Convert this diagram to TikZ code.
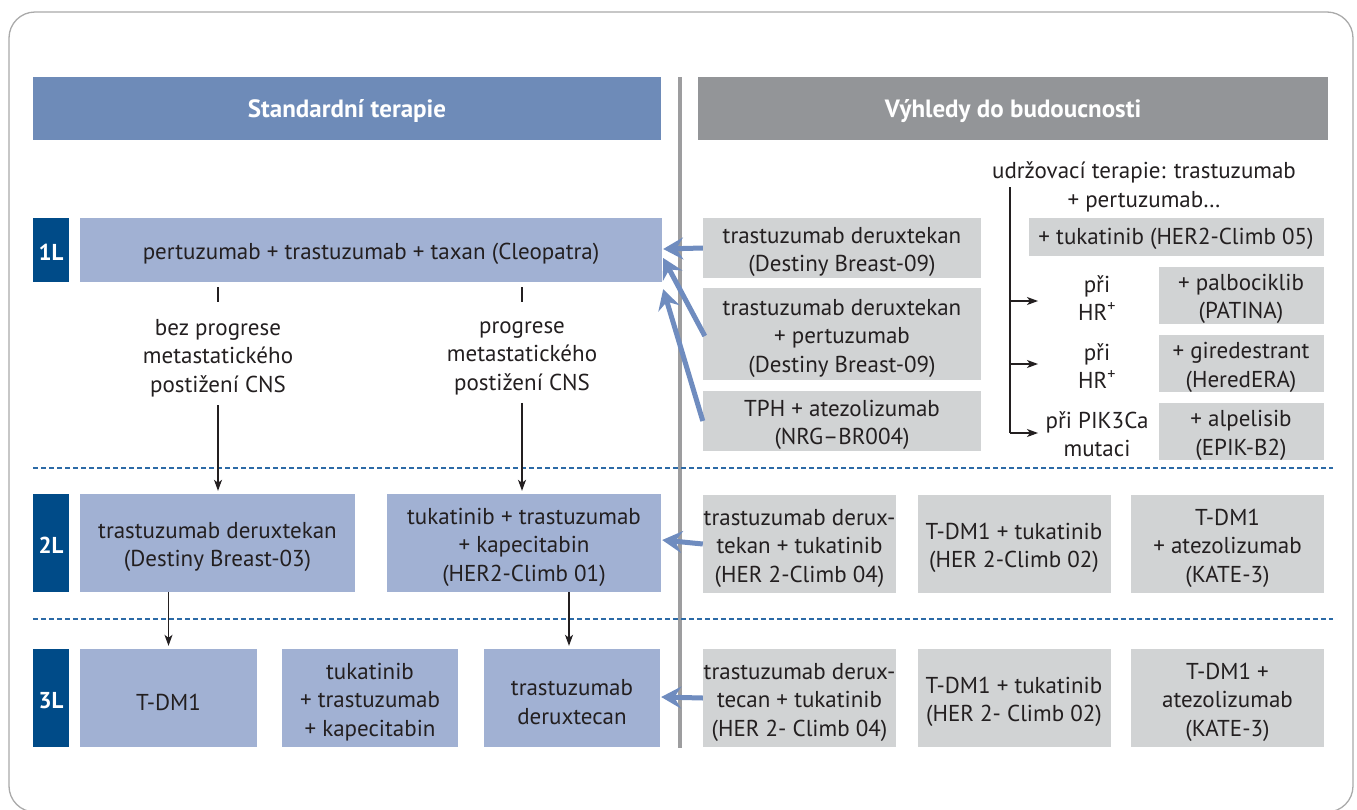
\documentclass[tikz,border=0pt]{standalone}
\usepackage{fontspec}
\setmainfont{PT Sans}
\usetikzlibrary{arrows.meta,calc}
\definecolor{hblue}{HTML}{6E8BB8}
\definecolor{bblue}{HTML}{A1B1D3}
\definecolor{dblue}{HTML}{004B88}
\definecolor{hgray}{HTML}{939598}
\definecolor{bgray}{HTML}{D1D3D4}
\definecolor{ablue}{HTML}{6F8CBF}
\definecolor{dashc}{HTML}{2C6AA6}
\definecolor{divc}{HTML}{9D9D9F}
\definecolor{framec}{HTML}{AAAAAA}
\definecolor{txt}{HTML}{231F20}
\tikzset{
  base/.style={inner sep=0pt, align=center, text=txt, font=\fontsize{23}{28.5}\selectfont},
  intext/.style={base, yshift=-4pt},
  inhead/.style={base, yshift=-2.5pt, text=white, font=\bfseries\fontsize{25}{28}\selectfont},
  hdr/.style={inner sep=0pt, minimum height=63pt},
  lvl/.style={inner sep=0pt, fill=dblue, minimum width=36pt},
  bluebox/.style={inner sep=0pt, fill=bblue},
  graybox/.style={inner sep=0pt, fill=bgray},
  plain/.style={base},
  barrow/.style={draw=ablue, line width=5pt, -{Stealth[length=20pt,width=22pt,inset=7pt]}},
  karrow/.style={draw=txt, line width=1.1pt, -{Stealth[length=11pt,width=8pt,inset=3pt]}},
  kline/.style={draw=txt, line width=1.1pt},
  dashline/.style={draw=dashc, line width=1.3pt, dash pattern=on 5pt off 3pt},
}
\begin{document}
\begin{tikzpicture}[x=1pt,y=-1pt]
\useasboundingbox (0,0) rectangle (1357,809);
\fill[white] (0,0) rectangle (1357,809);
\draw[framec, line width=1.3pt, rounded corners=26pt] (9,12) rectangle (1353,812);
% headers
\node[hdr, fill=hblue, minimum width=628pt, label={[inhead]center:Standardní terapie}] (hl) at (347,108.5) {};
\node[hdr, fill=hgray, minimum width=630pt, label={[inhead]center:Výhledy do budoucnosti}] (hr) at (1013,108.5) {};
% divider
\coordinate (dvt) at (680,77);
\coordinate (dvb) at (680,748);
\draw[divc, line width=3.5pt] (dvt) -- (dvb);
% dashed separators
\coordinate (d1l) at (33,468); \coordinate (d1r) at (1333,468);
\coordinate (d2l) at (33,619); \coordinate (d2r) at (1333,619);
\draw[dashline] (d1l) -- (d1r);
\draw[dashline] (d2l) -- (d2r);
% level labels
\node[lvl, minimum height=64pt, label={[inhead, font=\bfseries\fontsize{23}{28}\selectfont]center:1L}] (l1) at (51,250) {};
\node[lvl, minimum height=98pt, label={[inhead, font=\bfseries\fontsize{23}{28}\selectfont]center:2L}] (l2) at (51,543) {};
\node[lvl, minimum height=98pt, label={[inhead, font=\bfseries\fontsize{23}{28}\selectfont]center:3L}] (l3) at (51,698) {};
% standard therapy boxes
\node[bluebox, minimum width=582pt, minimum height=64pt, label={[intext]center:pertuzumab + trastuzumab + taxan (Cleopatra)}] (b1) at (371,250) {};
\node[bluebox, minimum width=275pt, minimum height=98pt, label={[intext]center:{trastuzumab deruxtekan\\(Destiny Breast-03)}}] (b2a) at (217.5,543) {};
\node[bluebox, minimum width=274pt, minimum height=98pt, label={[intext]center:{tukatinib + trastuzumab\\+ kapecitabin\\(HER2-Climb 01)}}] (b2b) at (524,543) {};
\node[bluebox, minimum width=177pt, minimum height=98pt, label={[intext]center:T-DM1}] (b3a) at (168.5,698) {};
\node[bluebox, minimum width=176pt, minimum height=98pt, label={[intext]center:{tukatinib\\+ trastuzumab\\+ kapecitabin}}] (b3b) at (370,698) {};
\node[bluebox, minimum width=176pt, minimum height=98pt, label={[intext]center:{trastuzumab\\deruxtecan}}] (b3c) at (572,698) {};
% condition labels
\node[plain] (ca) at (218,358) {bez progrese\\metastatického\\postižení CNS};
\node[plain] (cb) at (522,358) {progrese\\metastatického\\postižení CNS};
\draw[kline] ($(b1.south -| ca)+(0,5)$) -- ($(b1.south -| ca)+(0,20)$);
\draw[kline] ($(b1.south -| cb)+(0,5)$) -- ($(b1.south -| cb)+(0,20)$);
\draw[karrow] ($(ca.south)+(0,8)$) -- ($(b2a.north -| ca)+(0,-3)$);
\draw[karrow] ($(cb.south)+(0,8)$) -- ($(b2b.north -| cb)+(0,-3)$);
\draw[karrow] (b2a.south -| b3a) -- ($(b3a.north)+(0,-3)$);
\draw[karrow] ($(b2b.south -| b3c)+(-3,0)$) -- ($(b3c.north)+(-3,-3)$);
% future 1L
\node[graybox, minimum width=278pt, minimum height=60pt, label={[intext]center:{trastuzumab deruxtekan\\(Destiny Breast-09)}}] (r1a) at (842,248) {};
\node[graybox, minimum width=278pt, minimum height=92pt, label={[intext]center:{trastuzumab deruxtekan\\+ pertuzumab\\(Destiny Breast-09)}}] (r1b) at (842,334) {};
\node[graybox, minimum width=278pt, minimum height=60pt, label={[intext]center:{TPH + atezolizumab\\(NRG–BR004)}}] (r1c) at (842,421) {};
\draw[barrow] (r1a.west) -- ($(b1.east)+(1,-1)$);
\draw[barrow] ($(r1b.west)+(2,2)$) -- ($(b1.east)+(1,8)$);
\draw[barrow] (r1c.west) -- ($(b1.south east)+(1,7)$);
% maintenance
\node[plain] (mt) at (1144,187) {udržovací terapie: trastuzumab\\+ pertuzumab…};
\node[graybox, minimum width=295pt, minimum height=38pt, label={[intext, yshift=2pt]center:+ tukatinib (HER2-Climb 05)}] (c05) at (1176,237) {};
\node[graybox, minimum width=165pt, minimum height=57pt, label={[intext]center:{+ palbociklib\\(PATINA)}}] (palb) at (1241,295) {};
\node[graybox, minimum width=165pt, minimum height=57pt, label={[intext]center:{+ giredestrant\\(HeredERA)}}] (gire) at (1241,363.5) {};
\node[graybox, minimum width=165pt, minimum height=57pt, label={[intext]center:{+ alpelisib\\(EPIK-B2)}}] (alpe) at (1241,431.5) {};
\node[plain] (p1) at (1097,298) {při\\HR\textsuperscript{+}};
\node[plain] (p2) at (1097,366) {při\\HR\textsuperscript{+}};
\node[plain] (p3) at (1097,434) {při PIK3Ca\\mutaci};
\coordinate (brt) at (1010,187);
\coordinate (brb) at (1010,433);
\coordinate (a1) at (1038,301);
\coordinate (a2) at (1038,364);
\coordinate (a3) at (1038,433);
\draw[kline] (brt) -- (brb);
\draw[karrow] (brt |- a1) -- (a1);
\draw[karrow] (brt |- a2) -- (a2);
\draw[karrow] (brb) -- (a3);
% future 2L
\node[graybox, minimum width=193pt, minimum height=98pt, label={[intext]center:{trastuzumab derux-\\tekan + tukatinib\\(HER 2-Climb 04)}}] (r2a) at (799.5,544) {};
\node[graybox, minimum width=193pt, minimum height=98pt, label={[intext]center:{T-DM1 + tukatinib\\(HER 2-Climb 02)}}] (r2b) at (1014,544) {};
\node[graybox, minimum width=193pt, minimum height=98pt, label={[intext]center:{T-DM1\\+ atezolizumab\\(KATE-3)}}] (r2c) at (1227.5,544) {};
\draw[barrow] (r2a.west) -- ($(b2b.east)+(1,-3)$);
% future 3L
\node[graybox, minimum width=193pt, minimum height=98pt, label={[intext]center:{trastuzumab derux-\\tecan + tukatinib\\(HER 2- Climb 04)}}] (r3a) at (799.5,698) {};
\node[graybox, minimum width=193pt, minimum height=98pt, label={[intext]center:{T-DM1 + tukatinib\\(HER 2- Climb 02)}}] (r3b) at (1014,698) {};
\node[graybox, minimum width=193pt, minimum height=98pt, label={[intext]center:{T-DM1 +\\atezolizumab\\(KATE-3)}}] (r3c) at (1227.5,698) {};
\draw[barrow] (r3a.west) -- ($(b3c.east)+(1,-1)$);
\end{tikzpicture}
\end{document}
